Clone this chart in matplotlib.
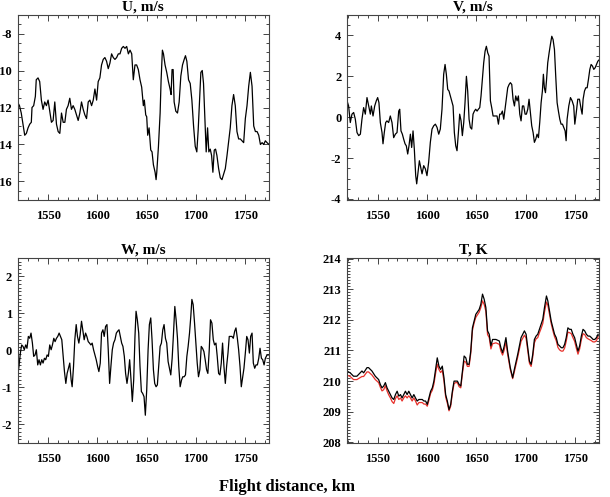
import matplotlib
matplotlib.use("Agg")
import matplotlib.pyplot as plt
from matplotlib.ticker import MultipleLocator

plt.rcParams['font.family'] = ['Liberation Serif', 'DejaVu Serif']
plt.rcParams['font.weight'] = 'bold'
plt.rcParams['axes.unicode_minus'] = False

# ---- data ----
u_km = [1518.5, 1521, 1522.8, 1524.6, 1526.3, 1528, 1529.7, 1531.4, 1533, 1533.7,
        1535.4, 1537.1, 1538, 1539.8, 1541.5, 1543.2, 1544.9, 1546.6, 1548.3, 1550,
        1551.7, 1553.4, 1555.1, 1556.8, 1558.5, 1560.2, 1561.9, 1563.6, 1565.3, 1567,
        1568.6, 1570.3, 1572, 1573.7, 1575.4, 1577.1, 1578.8, 1580.5, 1582.2, 1583.9,
        1585.6, 1587.3, 1589, 1590.7, 1592.4, 1594.1, 1595.8, 1597.5, 1599.2, 1600.8,
        1602.5, 1604.2, 1605.9, 1607.6, 1609.3, 1611, 1612.7, 1614.4, 1616.1, 1617.8,
        1619.5, 1621.2, 1622.9, 1624.6, 1626.3, 1628, 1629.7, 1631.4, 1633.1, 1634.8,
        1636.4, 1638.1, 1639.8, 1641.5, 1643.2, 1644.9, 1646.6, 1647.6, 1649, 1650,
        1651, 1652.4, 1654.1, 1655.4, 1656.8, 1658.5, 1659.5, 1660.2, 1661.9, 1663.6,
        1664.6, 1665.9, 1667, 1668.6, 1670.3, 1672, 1673.7, 1674.7, 1675.7, 1676.8,
        1677.8, 1679.5, 1681.2, 1682.9, 1684.6, 1686.3, 1688, 1689.3, 1690.7, 1692.4,
        1694.1, 1695.8, 1697.5, 1699.2, 1700.8, 1702.2, 1703.6, 1704.9, 1706.3, 1707.6,
        1709, 1710.3, 1711.7, 1713, 1714.4, 1715.8, 1717.1, 1718.5, 1719.8, 1721.2,
        1722.9, 1724.6, 1726.3, 1728, 1729.7, 1731.4, 1733.1, 1734.7, 1736.4, 1738.1,
        1739.8, 1741.5, 1743.2, 1744.9, 1746.6, 1748.3, 1750, 1751.7, 1753.4, 1755.1,
        1756.8, 1758.5, 1760.2, 1761.9, 1763.6, 1765.3, 1767, 1768.6, 1770.3, 1772,
        1774]
u_val = [-11.66, -11.9, -12.3, -12.9, -13.5, -13.4, -13.1, -12.9, -12.8, -12.0,
         -11.9, -11.4, -10.5, -10.4, -10.6, -11.6, -12.1, -11.7, -11.9, -11.6,
         -12.2, -12.8, -12.7, -11.7, -12.9, -13.3, -13.4, -12.3, -12.8, -12.8,
         -12.1, -11.9, -11.5, -12.1, -11.9, -12.1, -12.4, -12.7, -12.3, -11.7,
         -12.1, -12.4, -12.6, -11.7, -11.6, -11.9, -11.6, -11.0, -11.6, -10.6,
         -10.4, -9.7, -9.4, -9.3, -9.5, -9.9, -9.6, -9.1, -9.3, -9.4,
         -9.3, -9.1, -9.1, -8.8, -8.7, -8.8, -8.7, -9.1, -8.9, -9.1,
         -10.5, -9.7, -9.7, -9.95, -10.5, -10.9, -11.9, -11.6, -12.4, -12.5,
         -13.5, -13.1, -14.3, -14.4, -15.1, -15.5, -15.9, -15.5, -14.1, -12.3,
         -10.5, -8.9, -9.1, -9.7, -10.1, -10.6, -11.0, -11.3, -9.95, -9.95,
         -11.7, -12.2, -12.3, -11.7, -10.3, -9.7, -9.4, -9.2, -9.5, -10.5,
         -10.7, -11.6, -13.0, -14.1, -14.4, -13.2, -11.6, -10.1, -10.0, -10.7,
         -12.6, -14.4, -13.1, -14.4, -14.25, -14.6, -15.5, -14.3, -14.25, -14.6,
         -15.3, -15.8, -15.9, -15.6, -15.3, -14.6, -13.8, -13.1, -11.9, -11.3,
         -11.9, -13.3, -13.7, -13.7, -13.8, -13.9, -12.6, -11.9, -10.85, -10.1,
         -10.85, -13.0, -13.3, -13.3, -13.5, -14.0, -13.9, -14.0, -13.8, -13.9,
         -14.0]

v_km = [1519, 1520.6, 1522.3, 1524, 1525.7, 1527.4, 1529.1, 1530.8, 1532.5, 1534.1,
        1535.8, 1537.5, 1539.2, 1540.9, 1542.6, 1543.6, 1545.3, 1547, 1548.6, 1550,
        1551.3, 1552.7, 1554.4, 1555.4, 1556.7, 1558.1, 1559.4, 1561.1, 1562.8, 1564.5,
        1566.2, 1567.9, 1569.6, 1571.3, 1572.3, 1573.6, 1575, 1576.3, 1577.7, 1579,
        1580.4, 1581.7, 1583.1, 1584.4, 1585.8, 1587.1, 1588.5, 1589.5, 1590.8, 1592.2,
        1593.5, 1594.9, 1596.6, 1598.3, 1599.9, 1601.6, 1603.3, 1605, 1606.7, 1608.4,
        1610.1, 1611.8, 1613.4, 1615.1, 1616.8, 1618.2, 1619.5, 1620.9, 1622.2, 1623.6,
        1624.9, 1626.3, 1627.6, 1629, 1630.3, 1631.7, 1633, 1634.4, 1635.7, 1637.1,
        1638.4, 1639.8, 1641.1, 1642.5, 1643.8, 1645.2, 1646.5, 1647.9, 1649.2, 1650.6,
        1651.9, 1653.3, 1654.6, 1656, 1657.3, 1658.7, 1660, 1661.4, 1662.7, 1664.1,
        1665.4, 1666.8, 1668.1, 1669.5, 1670.8, 1672.2, 1673.5, 1674.9, 1676.2, 1677.6,
        1678.9, 1680.3, 1681.6, 1683, 1684.3, 1685.7, 1687, 1688.4, 1689.7, 1691.1,
        1692.4, 1693.8, 1695.1, 1696.5, 1697.8, 1699.2, 1700.5, 1701.9, 1703.2, 1704.6,
        1705.9, 1707.3, 1708.6, 1710, 1711.3, 1712.7, 1714, 1715.4, 1716.7, 1717.7,
        1718.7, 1719.8, 1720.8, 1722.1, 1723.5, 1724.8, 1726.2, 1727.5, 1728.9, 1730.2,
        1731.6, 1732.9, 1734.3, 1735.6, 1737, 1738.3, 1739.7, 1740.7, 1741.7, 1743.4,
        1745.1, 1746.8, 1748.4, 1749.5, 1750.8, 1752.5, 1754.2, 1755.9, 1756.9, 1757.9,
        1759.3, 1760.6, 1762, 1763.3, 1764.7, 1766, 1767.4, 1768.7, 1770.1, 1771.4,
        1772.8, 1774.4]
v_val = [0.8, 0.55, -0.26, 0.15, 0.23, -0.1, -0.75, -0.9, -0.83, -0.1,
         0.47, 0.15, 0.96, 0.55, 0.15, 0.55, 0.06, 0.55, 0.8, 0.96,
         0.71, -0.26, -0.75, -1.3, -0.75, -0.26, -0.18, -0.26, 0.06, -0.26,
         -1.0, -0.83, -0.75, 0.3, 0.39, -0.67, -0.83, -1.07, -1.3, -1.4,
         -1.8, -1.4, -0.83, -1.48, -0.67, -1.56, -2.86, -3.26, -2.7, -2.13,
         -2.45, -2.77, -2.37, -2.53, -2.86, -2.2, -1.23, -0.58, -0.42, -0.34,
         -0.5, -0.83, -0.58, 0.39, 2.1, 2.58, 2.1, 1.36, 1.28, 1.04,
         0.8, 0.55, -0.75, -1.4, -1.64, -0.75, 0.15, -0.18, -0.9, -0.26,
         0.71, 2.0, 1.28, -0.1, -0.5, -0.58, 0.15, 0.3, 0.39, 0.3,
         0.39, 0.47, 1.04, 1.85, 2.66, 3.23, 3.47, 3.15, 2.99, 0.8,
         0.47, 0.06, 0.06, 0.06, 0.06, -0.34, 0.15, 0.15, 0.3, -0.1,
         0.39, 0.88, 1.44, 1.6, 1.69, 1.6, 0.88, 0.55, 1.04, 0.8,
         1.04, 0.15, -0.18, 0.55, 0.55, 0.15, 0.15, 0.39, 0.88, 0.23,
         -0.42, -0.75, -1.23, -1.07, -0.83, -1.0, -0.26, 0.71, 1.28, 2.1,
         1.44, 1.2, 1.77, 2.66, 3.15, 3.56, 3.96, 3.8, 3.31, 2.0,
         0.71, 0.3, -0.1, -0.34, -0.34, -0.5, -0.67, -1.15, -0.1, 0.55,
         0.96, 0.8, 0.55, -0.34, 0.15, 0.88, 0.88, 0.39, 0.15, 0.88,
         1.28, 1.44, 1.44, 1.85, 2.34, 2.58, 2.5, 2.34, 2.42, 2.58,
         2.74, 2.82]

w_km = [1518.5, 1519.5, 1520.5, 1521.9, 1523.2, 1524.6, 1525.9, 1527.3, 1528.6, 1530,
        1531.4, 1532.7, 1534.1, 1535.4, 1536.8, 1538.1, 1539.5, 1540.8, 1542.2, 1543.6,
        1544.9, 1546.3, 1547.6, 1549, 1550.3, 1551.7, 1553.1, 1554.4, 1555.8, 1557.1,
        1558.5, 1559.8, 1561.2, 1562.5, 1563.9, 1565.3, 1566.6, 1568, 1569.3, 1570.7,
        1572, 1573.4, 1574.4, 1575.8, 1577.1, 1578.5, 1579.8, 1581.2, 1582.5, 1583.9,
        1585.3, 1586.6, 1588, 1589.3, 1590.7, 1592, 1593.4, 1594.7, 1596.1, 1597.5,
        1598.8, 1600.2, 1601.5, 1602.9, 1604.2, 1605.6, 1606.9, 1608.3, 1609.7, 1611,
        1612.4, 1613.7, 1615.1, 1616.4, 1617.8, 1619.2, 1620.5, 1621.9, 1623.2, 1624.6,
        1625.9, 1627.3, 1628.6, 1630, 1631.4, 1632.7, 1634.1, 1635.4, 1636.8, 1638.1,
        1639.2, 1640.5, 1641.9, 1643.2, 1644.6, 1645.9, 1647.3, 1648.6, 1650, 1651.4,
        1652.7, 1654.1, 1655.4, 1656.8, 1658.1, 1659.5, 1660.8, 1662.2, 1663.6, 1664.9,
        1666.3, 1667.6, 1669, 1670.3, 1671.7, 1673.1, 1674.4, 1675.8, 1677.1, 1678.5,
        1679.8, 1681.2, 1682.5, 1683.9, 1685.3, 1686.6, 1688, 1689.3, 1690.7, 1692,
        1693.4, 1694.7, 1695.8, 1697.1, 1698.5, 1699.8, 1701.2, 1702.5, 1703.9, 1705.3,
        1706.6, 1708, 1709.3, 1710.7, 1712, 1713.4, 1714.7, 1716.1, 1717.5, 1718.8,
        1720.2, 1721.5, 1722.9, 1724.2, 1725.6, 1726.9, 1728.3, 1729.7, 1731, 1732.4,
        1733.7, 1735.1, 1736.4, 1737.8, 1739.2, 1740.5, 1741.9, 1743.2, 1744.6, 1745.9,
        1747.3, 1748.6, 1750, 1751.4, 1752.7, 1754.1, 1755.4, 1756.8, 1758.1, 1759.5,
        1760.8, 1762.2, 1763.6, 1764.9, 1766.3, 1767.6, 1769, 1770.3, 1772, 1774]
w_val = [-0.98, -0.62, -0.43, -0.07, 0.15, 0.11, 0.02, 0.15, 0.06, 0.38,
         0.33, 0.47, 0.2, -0.16, -0.12, 0.02, -0.39, -0.25, -0.39, -0.25,
         -0.34, -0.21, -0.25, -0.12, -0.16, 0.15, 0.02, 0.15, 0.33, 0.24,
         0.33, 0.38, 0.47, 0.38, 0.29, -0.16, -0.57, -0.89, -0.62, -0.48,
         -0.34, -0.8, -0.98, -0.43, 0.29, 0.7, 0.38, 0.2, 0.43, 0.79,
         0.52, 0.29, 0.47, 0.38, 0.24, 0.2, 0.15, 0.2, 0.02, -0.12,
         -0.25, -0.43, -0.57, -0.34, 0.47, 0.56, 0.38, 0.65, 0.7, 0.02,
         -0.89, -0.43, 0.02, 0.2, 0.29, 0.47, 0.52, 0.56, 0.38, 0.2,
         0.11, -0.16, -0.62, -0.89, -0.62, -0.25, -0.8, -1.38, -0.8, 0.38,
         1.06, 0.83, 0.47, -0.43, -1.11, -1.16, -1.25, -1.75, -1.07, 0.02,
         0.7, 0.88, 0.29, -0.52, -0.89, -0.98, -0.93, -0.43, 0.11, 0.2,
         0.56, 0.7, 0.33, 0.2, -0.3, -0.48, -0.66, -0.21, 0.43, 1.19,
         0.83, 0.33, -0.43, -0.98, -0.8, -0.71, -0.71, -0.66, -0.16, 0.11,
         0.47, 0.92, 1.38, 1.24, 0.74, 0.2, -0.34, -0.71, -0.52, 0.11,
         0.06, -0.03, -0.25, -0.52, -0.62, 0.02, 0.83, 0.74, 0.29, 0.15,
         0.2, -0.16, -0.62, -0.66, -0.34, 0.2, -0.43, -0.89, -0.43, -0.07,
         0.38, 0.38, 0.38, 0.33, 0.52, 0.61, 0.33, 0.02, -0.43, -0.98,
         -0.71, -0.48, -0.07, 0.38, 0.29, -0.07, 0.38, 0.47, -0.34, -0.48,
         -0.39, -0.39, -0.21, 0.06, -0.21, -0.25, -0.39, -0.21, -0.12, -0.12]

t_km = [1518.8, 1522.2, 1525.6, 1529.0, 1534.1, 1535.8, 1539.2, 1540.8, 1544.2, 1547.6,
        1551.0, 1552.7, 1554.4, 1556.1, 1557.8, 1559.5, 1561.2, 1562.9, 1564.6, 1566.3,
        1568.0, 1569.7, 1571.4, 1573.1, 1574.7, 1576.4, 1578.1, 1579.8, 1581.5, 1583.2,
        1584.9, 1586.6, 1588.3, 1590.0, 1591.7, 1593.4, 1595.1, 1596.8, 1598.5, 1600.2,
        1601.9, 1603.6, 1605.3, 1606.9, 1608.6, 1610.3, 1612.0, 1613.7, 1615.4, 1617.1,
        1618.8, 1620.5, 1622.2, 1623.9, 1625.6, 1627.3, 1629.0, 1630.7, 1632.4, 1634.1,
        1635.8, 1637.5, 1639.2, 1640.8, 1642.5, 1644.2, 1645.9, 1647.6, 1649.3, 1652.7,
        1654.4, 1656.1, 1657.8, 1659.5, 1661.2, 1662.9, 1664.6, 1666.3, 1669.7, 1673.1,
        1674.7, 1676.4, 1678.1, 1679.8, 1681.5, 1684.2, 1686.6, 1688.3, 1691.7, 1695.1,
        1698.5, 1700.2, 1701.9, 1703.6, 1705.3, 1706.9, 1708.6, 1710.3, 1712.0, 1713.7,
        1715.4, 1717.1, 1718.8, 1720.8, 1722.2, 1723.9, 1725.6, 1727.3, 1729.0, 1730.7,
        1732.4, 1734.1, 1735.8, 1737.5, 1739.2, 1740.8, 1742.5, 1744.2, 1745.9, 1747.6,
        1749.3, 1751.0, 1752.7, 1754.4, 1756.1, 1757.8, 1759.5, 1761.2, 1762.9, 1764.6,
        1766.3, 1768.0, 1769.7, 1771.4, 1773.1]
t_black = [210.33, 210.27, 210.16, 210.16, 210.33, 210.27, 210.44, 210.44, 210.33, 210.16,
           210.05, 209.89, 209.78, 209.84, 209.95, 209.78, 209.67, 209.56, 209.45, 209.40,
           209.56, 209.67, 209.51, 209.56, 209.45, 209.56, 209.67, 209.56, 209.67, 209.56,
           209.45, 209.56, 209.45, 209.35, 209.40, 209.40, 209.40, 209.35, 209.35, 209.24,
           209.45, 209.67, 209.78, 210.00, 210.38, 210.76, 210.49, 210.38, 210.49, 210.11,
           209.56, 209.35, 209.07, 209.24, 209.67, 210.00, 210.00, 210.00, 209.89, 209.84,
           210.33, 210.82, 210.76, 210.55, 210.55, 210.98, 211.74, 211.96, 212.18, 212.34,
           212.51, 212.84, 212.67, 212.40, 211.64, 211.53, 211.15, 211.36, 211.36, 211.31,
           211.09, 210.93, 211.15, 211.42, 210.98, 210.44, 210.11, 210.38, 210.87, 211.42,
           211.64, 211.53, 211.09, 210.65, 210.55, 210.87, 211.36, 211.47, 211.53, 211.69,
           211.85, 212.02, 212.40, 212.78, 212.62, 212.29, 211.96, 211.74, 211.53, 211.42,
           211.20, 211.15, 211.09, 211.09, 211.20, 211.42, 211.74, 211.69, 211.69, 211.53,
           211.42, 211.20, 210.98, 211.15, 211.47, 211.69, 211.64, 211.53, 211.47, 211.47,
           211.42, 211.36, 211.36, 211.42, 211.53]
t_red = [210.20, 210.15, 210.05, 210.05, 210.15, 210.15, 210.30, 210.30, 210.20, 210.05,
         209.95, 209.80, 209.68, 209.72, 209.85, 209.68, 209.55, 209.45, 209.33, 209.27,
         209.43, 209.52, 209.40, 209.45, 209.35, 209.45, 209.52, 209.45, 209.52, 209.45,
         209.35, 209.45, 209.35, 209.22, 209.30, 209.30, 209.30, 209.25, 209.25, 209.18,
         209.38, 209.60, 209.70, 209.90, 210.25, 210.55, 210.38, 210.28, 210.35, 210.00,
         209.48, 209.28, 209.03, 209.18, 209.60, 209.92, 209.95, 209.95, 209.82, 209.78,
         210.25, 210.65, 210.62, 210.48, 210.48, 210.90, 211.65, 211.90, 212.08, 212.25,
         212.40, 212.62, 212.50, 212.28, 211.52, 211.42, 211.05, 211.22, 211.25, 211.20,
         210.98, 210.85, 211.02, 211.28, 210.88, 210.38, 210.08, 210.30, 210.78, 211.30,
         211.50, 211.40, 211.00, 210.58, 210.48, 210.78, 211.25, 211.38, 211.42, 211.58,
         211.72, 211.88, 212.25, 212.58, 212.48, 212.18, 211.88, 211.65, 211.45, 211.32,
         211.10, 211.02, 210.98, 210.98, 211.08, 211.30, 211.60, 211.58, 211.55, 211.42,
         211.30, 211.08, 210.88, 211.05, 211.35, 211.55, 211.52, 211.42, 211.38, 211.35,
         211.32, 211.28, 211.28, 211.32, 211.45]

x_range = (1519, 1774)
x_ticks = [1550, 1600, 1650, 1700, 1750]

fig = plt.figure(figsize=(6.10, 4.97), dpi=100)

# panel layout in figure fractions: left, bottom, width, height
axU = fig.add_axes([0.0287, 0.5976, 0.4123, 0.3722])
axV = fig.add_axes([0.5689, 0.5976, 0.4131, 0.3722])
axW = fig.add_axes([0.0287, 0.1087, 0.4123, 0.3722])
axT = fig.add_axes([0.5689, 0.1087, 0.4131, 0.3722])


def style_axis(ax, title, ylim, yticks, yminor):
   ax.set_xlim(*x_range)
   ax.set_ylim(*ylim)
   ax.set_xticks(x_ticks)
   ax.set_yticks(yticks)
   ax.xaxis.set_minor_locator(MultipleLocator(10))
   ax.yaxis.set_minor_locator(MultipleLocator(yminor))
   ax.tick_params(which='both', direction='in', top=True, right=True,
                  labelsize=9, width=0.7, color='#444444')
   ax.tick_params(which='major', length=4)
   ax.tick_params(which='minor', length=2)
   ax.tick_params(axis='x', pad=7)
   ax.tick_params(axis='y', pad=4)
   for lab in ax.get_xticklabels() + ax.get_yticklabels():
      lab.set_fontweight('bold')
   for sp in ax.spines.values():
      sp.set_linewidth(0.8)
      sp.set_color('#444444')
   ax.set_title(title, fontsize=11, fontweight='bold', pad=3)


axU.plot(u_km, u_val, color='black', lw=0.9)
style_axis(axU, 'U, m/s', (-17, -7), [-16, -14, -12, -10, -8], 0.5)

axV.plot(v_km, v_val, color='black', lw=0.9)
style_axis(axV, 'V, m/s', (-4.05, 5), [-4, -2, 0, 2, 4], 0.5)

axW.plot(w_km, w_val, color='black', lw=0.9)
style_axis(axW, 'W, m/s', (-2.5, 2.5), [-2, -1, 0, 1, 2], 0.1)

axT.plot(t_km, t_red, color='#e8302a', lw=0.9)
axT.plot(t_km, t_black, color='black', lw=0.9)
style_axis(axT, 'T, K', (207.98, 214.02), [208, 209, 210, 211, 212, 213, 214], 0.1)

fig.text(0.47, 0.02, 'Flight distance, km', ha='center', va='center',
         fontsize=12, fontweight='bold')

plt.savefig('out.png', dpi=100)
